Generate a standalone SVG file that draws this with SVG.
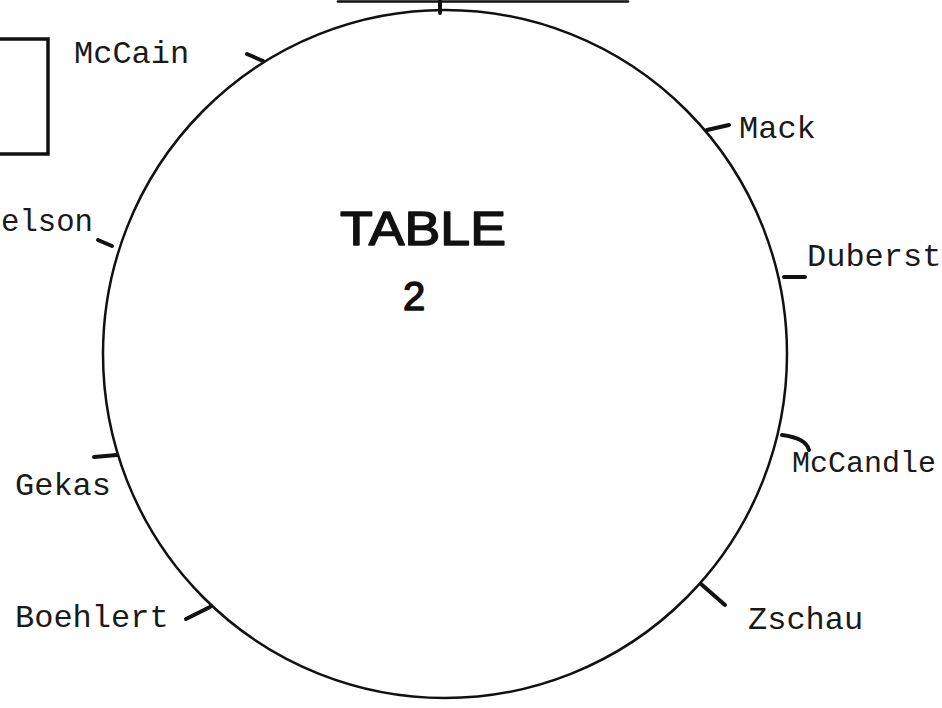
<svg xmlns="http://www.w3.org/2000/svg" width="942" height="708" viewBox="0 0 942 708">
<style>
.lbl{font-family:"Liberation Mono","Courier New",monospace;font-size:32px;fill:#1a1a1a}
.hand{font-family:"Liberation Sans",Arial,sans-serif;fill:#111;stroke:#111;stroke-width:1.5;stroke-linejoin:round}
.edge{fill:none;stroke:#111;stroke-width:2.5;stroke-linecap:round}
.tick{fill:none;stroke:#111;stroke-width:4;stroke-linecap:round;stroke-linejoin:round}
</style>
<rect width="942" height="708" fill="#fff"/>
<g id="table">
<ellipse cx="445" cy="354" rx="342" ry="344" class="edge"/>
<text class="hand" x="340" y="245" font-size="48" textLength="166" lengthAdjust="spacingAndGlyphs">TABLE</text>
<text class="hand" x="403" y="310" font-size="40">2</text>
</g>
<g id="top-box">
<path class="edge" d="M338 1.5 H628"/>
</g>
<g id="left-box">
<path class="edge" style="stroke-width:3.5" d="M0 39 H48 V154 H0"/>
</g>
<g id="connectors">
<path class="tick" d="M440 0 V13"/>
<path class="tick" d="M247 54 L263 61"/>
<path class="tick" d="M707 130 L729 125"/>
<path class="tick" d="M784 277 H805"/>
<path class="tick" d="M98 240 L112 246"/>
<path class="tick" d="M94 457 L117 455"/>
<path class="tick" d="M782 435 Q806 438 809 450"/>
<path class="tick" d="M701 584 L725 605"/>
<path class="tick" d="M186 619 L210 607"/>
</g>
<g id="mccain"><text class="lbl" x="74" y="63">McCain</text></g>
<g id="mack"><text class="lbl" x="739" y="138">Mack</text></g>
<g id="duberst"><text class="lbl" x="807" y="266">Duberst</text></g>
<g id="elson"><text class="lbl" x="1" y="231" textLength="92" lengthAdjust="spacingAndGlyphs">elson</text></g>
<g id="gekas"><text class="lbl" x="15" y="495">Gekas</text></g>
<g id="mccandle"><text class="lbl" x="792" y="472" style="font-size:30px">McCandle</text></g>
<g id="zschau"><text class="lbl" x="748" y="629">Zschau</text></g>
<g id="boehlert"><text class="lbl" x="15" y="627">Boehlert</text></g>
</svg>
